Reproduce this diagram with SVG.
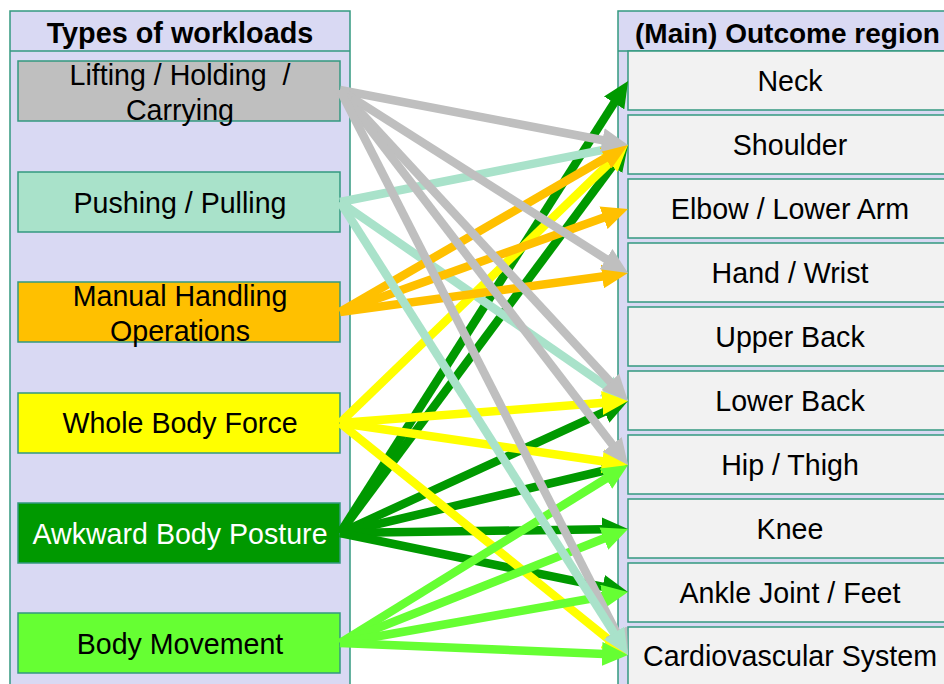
<svg xmlns="http://www.w3.org/2000/svg" width="944" height="684" viewBox="0 0 944 684">
<style>
.panel{fill:#d9d9f3;stroke:#339980;stroke-width:1.5}
.box{stroke:#339980;stroke-width:1.5}
.rbox{fill:#f2f2f2;stroke:#339980;stroke-width:1.5}
.hdr{font-family:"Liberation Sans",Arial,sans-serif;font-size:28.8px;font-weight:bold;fill:#000}
.lbl{font-family:"Liberation Sans",Arial,sans-serif;font-size:28.6px;fill:#000;text-anchor:middle;white-space:pre}
.c{fill:none;stroke-width:8.5}
.grey{stroke:#bfbfbf}.teal{stroke:#a9e2ca}.orange{stroke:#ffc000}.yellow{stroke:#ffff00}.dgreen{stroke:#009900}.lgreen{stroke:#66ff33}
</style>
<defs>
<marker id="mGrey" viewBox="0 -12 26 24" markerWidth="26" markerHeight="24" refX="2" refY="0" orient="auto" markerUnits="userSpaceOnUse"><path d="M0,-12 L26,0 L0,12 z" fill="#bfbfbf"/></marker>
<marker id="mTeal" viewBox="0 -12 26 24" markerWidth="26" markerHeight="24" refX="2" refY="0" orient="auto" markerUnits="userSpaceOnUse"><path d="M0,-12 L26,0 L0,12 z" fill="#a9e2ca"/></marker>
<marker id="mOrange" viewBox="0 -12 26 24" markerWidth="26" markerHeight="24" refX="2" refY="0" orient="auto" markerUnits="userSpaceOnUse"><path d="M0,-12 L26,0 L0,12 z" fill="#ffc000"/></marker>
<marker id="mYellow" viewBox="0 -12 26 24" markerWidth="26" markerHeight="24" refX="2" refY="0" orient="auto" markerUnits="userSpaceOnUse"><path d="M0,-12 L26,0 L0,12 z" fill="#ffff00"/></marker>
<marker id="mDgreen" viewBox="0 -12 26 24" markerWidth="26" markerHeight="24" refX="2" refY="0" orient="auto" markerUnits="userSpaceOnUse"><path d="M0,-12 L26,0 L0,12 z" fill="#009900"/></marker>
<marker id="mLgreen" viewBox="0 -12 26 24" markerWidth="26" markerHeight="24" refX="2" refY="0" orient="auto" markerUnits="userSpaceOnUse"><path d="M0,-12 L26,0 L0,12 z" fill="#66ff33"/></marker>
</defs>
<rect width="944" height="684" fill="#ffffff"/>

<g id="left-panel">
<rect class="panel" x="10" y="11" width="340" height="690"/>
<line x1="10" y1="51" x2="350" y2="51" stroke="#339980" stroke-width="1.5"/>
<text class="hdr" x="180" y="43" text-anchor="middle">Types of workloads</text>
</g>
<g id="right-panel">
<rect class="panel" x="618" y="11" width="340" height="690"/>
<line x1="618" y1="51" x2="958" y2="51" stroke="#339980" stroke-width="1.5"/>
<text class="hdr" x="635" y="43" style="font-size:28px">(Main) Outcome region</text>
</g>

<g id="n-lifting"><rect class="box" x="18" y="61" width="322" height="60" fill="#bfbfbf"/><text class="lbl" x="180" y="85">Lifting / Holding  /</text><text class="lbl" x="180" y="120">Carrying</text></g>
<g id="n-pushing"><rect class="box" x="18" y="172" width="322" height="60" fill="#a9e2ca"/><text class="lbl" x="180" y="213">Pushing / Pulling</text></g>
<g id="n-manual"><rect class="box" x="18" y="282" width="322" height="60" fill="#ffc000"/><text class="lbl" x="180" y="306">Manual Handling</text><text class="lbl" x="180" y="341">Operations</text></g>
<g id="n-wholebody"><rect class="box" x="18" y="393" width="322" height="60" fill="#ffff00"/><text class="lbl" x="180" y="433">Whole Body Force</text></g>
<g id="n-awkward"><rect class="box" x="18" y="503" width="322" height="60" fill="#009900"/><text class="lbl" x="180" y="544" style="fill:#ffffff">Awkward Body Posture</text></g>
<g id="n-movement"><rect class="box" x="18" y="613" width="322" height="60" fill="#66ff33"/><text class="lbl" x="180" y="654">Body Movement</text></g>

<g id="r-neck"><rect class="rbox" x="628" y="51" width="330" height="59"/><text class="lbl" x="790" y="91">Neck</text></g>
<g id="r-shoulder"><rect class="rbox" x="628" y="115" width="330" height="59"/><text class="lbl" x="790" y="155">Shoulder</text></g>
<g id="r-elbow"><rect class="rbox" x="628" y="179" width="330" height="59"/><text class="lbl" x="790" y="219">Elbow / Lower Arm</text></g>
<g id="r-hand"><rect class="rbox" x="628" y="243" width="330" height="59"/><text class="lbl" x="790" y="283">Hand / Wrist</text></g>
<g id="r-upperback"><rect class="rbox" x="628" y="307" width="330" height="59"/><text class="lbl" x="790" y="347">Upper Back</text></g>
<g id="r-lowerback"><rect class="rbox" x="628" y="371" width="330" height="59"/><text class="lbl" x="790" y="411">Lower Back</text></g>
<g id="r-hip"><rect class="rbox" x="628" y="435" width="330" height="59"/><text class="lbl" x="790" y="475">Hip / Thigh</text></g>
<g id="r-knee"><rect class="rbox" x="628" y="499" width="330" height="59"/><text class="lbl" x="790" y="539">Knee</text></g>
<g id="r-ankle"><rect class="rbox" x="628" y="563" width="330" height="59"/><text class="lbl" x="790" y="603">Ankle Joint / Feet</text></g>
<g id="r-cardio"><rect class="rbox" x="628" y="627" width="330" height="59"/><text class="lbl" x="790" y="666">Cardiovascular System</text></g>

<g id="connectors">
<line class="c dgreen" x1="340" y1="533" x2="615.2" y2="101.2" marker-end="url(#mDgreen)"/>
<line class="c dgreen" x1="340" y1="533" x2="613.8" y2="164.2" marker-end="url(#mDgreen)"/>
<line class="c dgreen" x1="340" y1="533" x2="606.2" y2="411.0" marker-end="url(#mDgreen)"/>
<line class="c dgreen" x1="340" y1="533" x2="604.6" y2="470.5" marker-end="url(#mDgreen)"/>
<line class="c dgreen" x1="340" y1="533" x2="604.0" y2="529.3" marker-end="url(#mDgreen)"/>
<line class="c dgreen" x1="340" y1="533" x2="604.5" y2="587.2" marker-end="url(#mDgreen)"/>
<line class="c teal" x1="340" y1="202" x2="604.4" y2="149.7" marker-end="url(#mTeal)"/>
<line class="c teal" x1="340" y1="202" x2="608.3" y2="387.4" marker-end="url(#mTeal)"/>
<line class="c yellow" x1="340" y1="423" x2="610.7" y2="161.7" marker-end="url(#mYellow)"/>
<line class="c yellow" x1="340" y1="423" x2="604.1" y2="402.8" marker-end="url(#mYellow)"/>
<line class="c yellow" x1="340" y1="423" x2="604.2" y2="461.5" marker-end="url(#mYellow)"/>
<line class="c yellow" x1="340" y1="423" x2="609.3" y2="640.0" marker-end="url(#mYellow)"/>
<line class="c lgreen" x1="340" y1="643" x2="607.6" y2="477.6" marker-end="url(#mLgreen)"/>
<line class="c lgreen" x1="340" y1="643" x2="605.7" y2="537.8" marker-end="url(#mLgreen)"/>
<line class="c lgreen" x1="340" y1="643" x2="604.4" y2="596.2" marker-end="url(#mLgreen)"/>
<line class="c lgreen" x1="340" y1="643" x2="604.0" y2="654.0" marker-end="url(#mLgreen)"/>
<line class="c orange" x1="340" y1="312" x2="607.2" y2="157.0" marker-end="url(#mOrange)"/>
<line class="c orange" x1="340" y1="312" x2="605.4" y2="217.1" marker-end="url(#mOrange)"/>
<line class="c orange" x1="340" y1="312" x2="604.2" y2="276.2" marker-end="url(#mOrange)"/>
<line class="c grey" x1="340" y1="90" x2="604.4" y2="140.5" marker-end="url(#mGrey)"/>
<line class="c grey" x1="340" y1="90" x2="607.7" y2="260.1" marker-end="url(#mGrey)"/>
<line class="c grey" x1="340" y1="90" x2="611.7" y2="383.4" marker-end="url(#mGrey)"/>
<line class="c grey" x1="340" y1="90" x2="613.4" y2="446.0" marker-end="url(#mGrey)"/>
<line class="c grey" x1="340" y1="90" x2="617.1" y2="633.6" marker-end="url(#mGrey)"/>
<line class="c teal" x1="340" y1="202" x2="615.1" y2="634.7" marker-end="url(#mTeal)"/>
</g>
</svg>
